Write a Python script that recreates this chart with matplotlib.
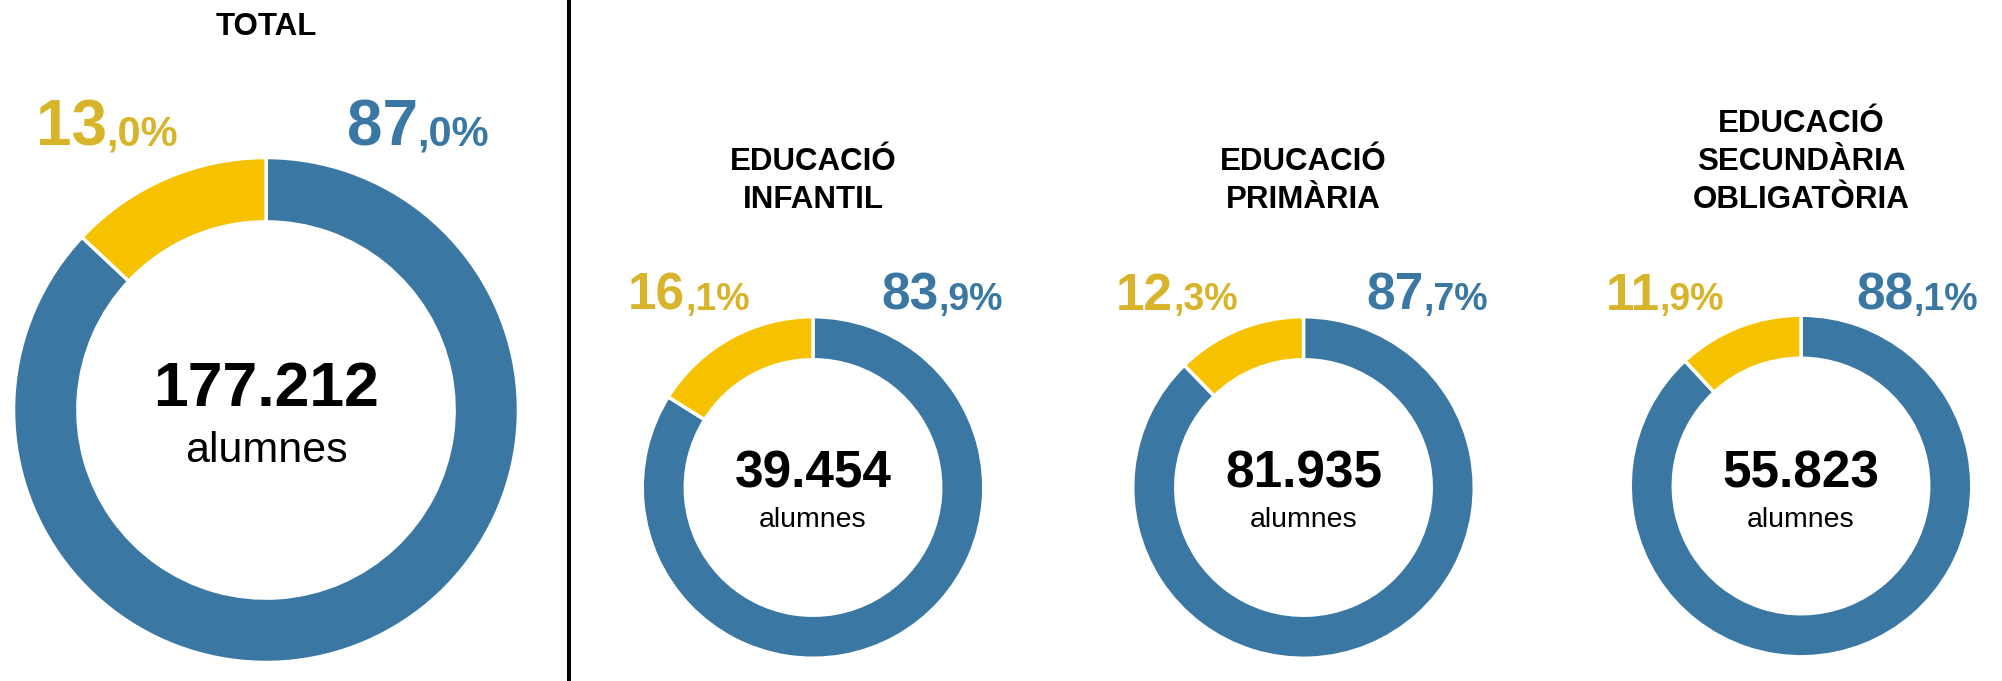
import matplotlib
matplotlib.use("Agg")
import matplotlib.pyplot as plt
from matplotlib.lines import Line2D

plt.rcParams['font.family'] = ['Liberation Sans', 'DejaVu Sans']

# data
titles = ["TOTAL", "EDUCACIÓ\nINFANTIL", "EDUCACIÓ\nPRIMÀRIA", "EDUCACIÓ\nSECUNDÀRIA\nOBLIGATÒRIA"]
pct_blue = [87.0, 83.9, 87.7, 88.1]
pct_yellow = [13.0, 16.1, 12.3, 11.9]
alumnes = [177212, 39454, 81935, 55823]

BLUE = "#3a78a3"
YELLOW = "#f6c200"
YELLOW_TXT = "#d8b42a"

W, H = 2002, 681
fig = plt.figure(figsize=(W / 100, H / 100), dpi=100)


def fx(x):
    return x / W


def fy(y):
    return 1 - y / H


# layout (pixels from top-left); radii padded for the white wedge edges
centers = [(266, 410), (813, 487.5), (1303.5, 487.5), (1801, 486)]
radii = [255, 172.5, 172.5, 172.5]
inner = [190, 129, 129, 129]
lab_yel_x = [107, 689, 1177, 1665]
lab_blu_x = [418, 942, 1427, 1917]
lab_base = [145, 310, 310, 310]
pct_sizes = [(46, 30), (37, 27), (37, 27), (37, 27)]
num_size = [45, 37, 37, 37]
num_base = [406, 488, 488, 488]
alu_size = [31, 20.5, 20.5, 20.5]
alu_base = [462, 527, 527, 527]
title_last_base = [35, 207.5, 207.5, 207.5]

renderer = fig.canvas.get_renderer()


def fmt_pct(v):
    s = f"{v:.1f}".replace(".", ",")
    big, small = s.split(",")
    return big, "," + small + "%"


def split_label(xc, base, value, sizes, color):
    big, small = fmt_pct(value)
    t1 = fig.text(0, 0, big, fontsize=sizes[0], weight='bold', color=color,
                  ha='left', va='baseline')
    t2 = fig.text(0, 0, small, fontsize=sizes[1], weight='bold', color=color,
                  ha='left', va='baseline')
    w1 = t1.get_window_extent(renderer).width
    w2 = t2.get_window_extent(renderer).width
    x0 = xc - (w1 + w2) / 2
    t1.set_position((fx(x0), fy(base)))
    t2.set_position((fx(x0 + w1), fy(base)))


for i in range(4):
    cx, cy = centers[i]
    r = radii[i]
    ax = fig.add_axes([fx(cx - r), fy(cy + r), 2 * r / W, 2 * r / H])
    ax.pie([pct_blue[i], pct_yellow[i]], colors=[BLUE, YELLOW],
           startangle=90, counterclock=False, radius=1,
           wedgeprops=dict(width=1 - inner[i] / r, edgecolor='white', linewidth=2.5))
    ax.set_xlim(-1.01, 1.01)
    ax.set_ylim(-1.01, 1.01)
    ax.set_axis_off()

    # title lines, bottom aligned
    lines = titles[i].split("\n")
    for k, line in enumerate(reversed(lines)):
        fig.text(fx(cx), fy(title_last_base[i] - 38 * k), line, fontsize=22.5,
                 weight='bold', ha='center', va='baseline', color='black')

    split_label(lab_yel_x[i], lab_base[i], pct_yellow[i], pct_sizes[i], YELLOW_TXT)
    split_label(lab_blu_x[i], lab_base[i], pct_blue[i], pct_sizes[i], BLUE)

    fig.text(fx(cx), fy(num_base[i]), f"{alumnes[i]:,}".replace(",", "."),
             fontsize=num_size[i], weight='bold', ha='center', va='baseline')
    fig.text(fx(cx), fy(alu_base[i]), "alumnes", fontsize=alu_size[i],
             ha='center', va='baseline')

fig.add_artist(Line2D([fx(569), fx(569)], [0, 1], color='black', linewidth=2.9,
                      transform=fig.transFigure))

fig.savefig("out.png", dpi=100, facecolor='white')
